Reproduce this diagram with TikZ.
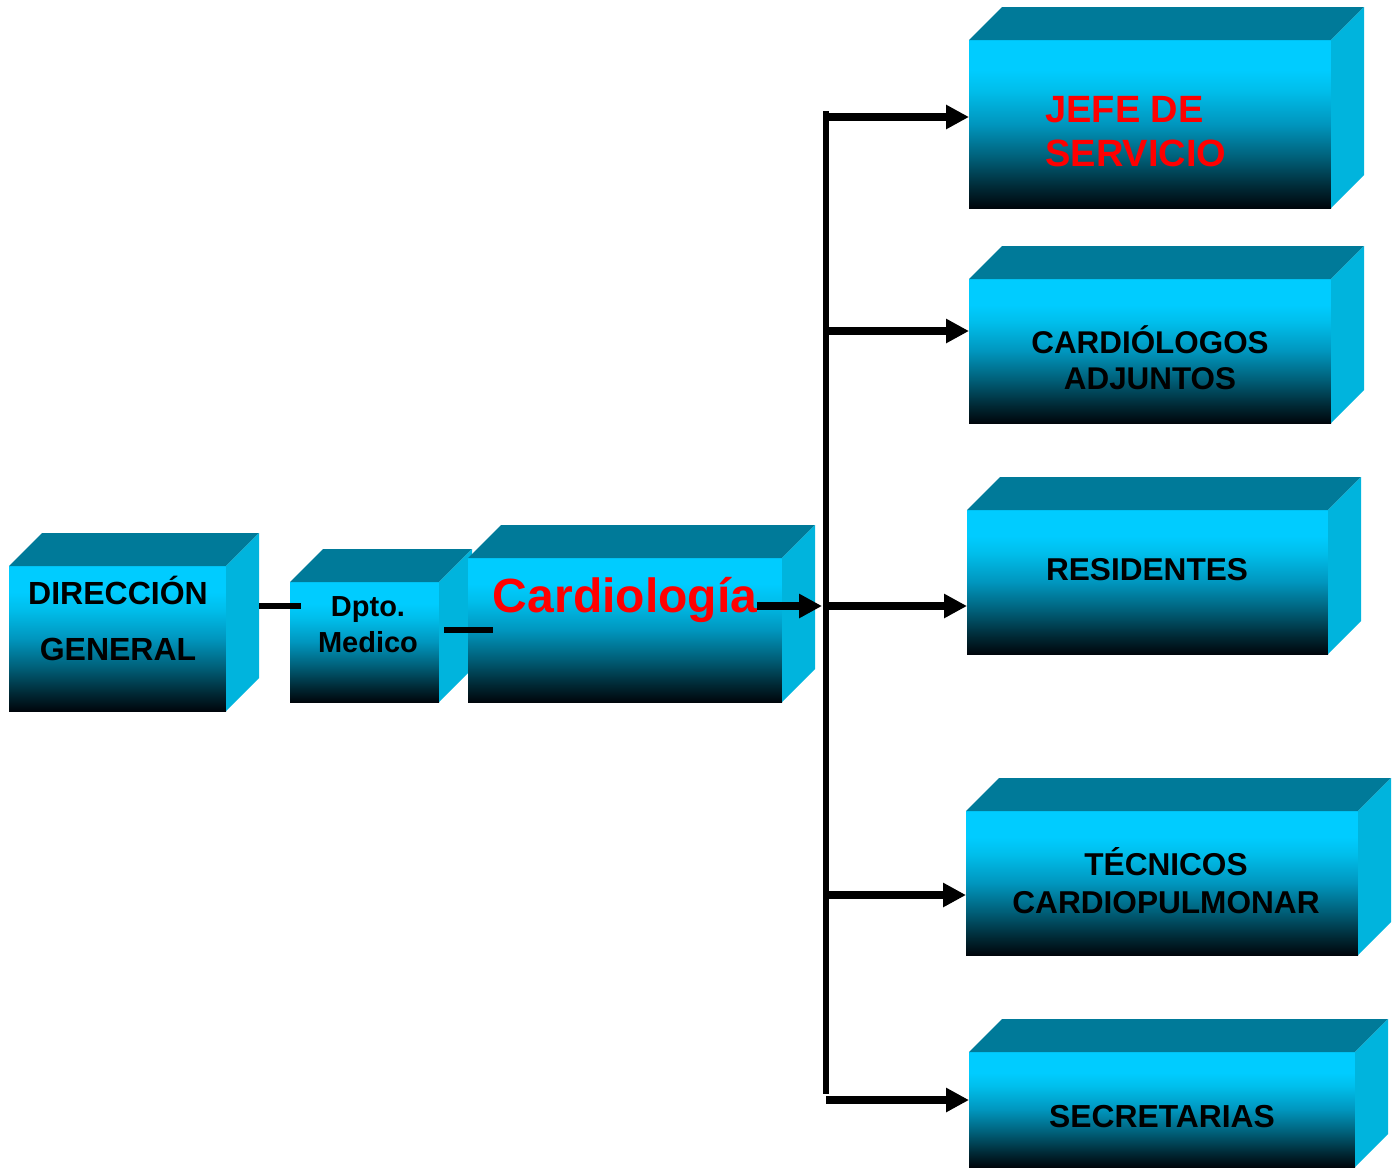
\documentclass[tikz,border=0pt]{standalone}
\usepackage{fontspec}
\setmainfont{Liberation Sans}
\usetikzlibrary{arrows.meta,fit,calc}

% face colours of the boxes
\definecolor{cubetop}{RGB}{0,122,153}
\definecolor{cubeside}{RGB}{0,180,221}
\definecolor{frontA}{RGB}{0,204,255}
\definecolor{frontB}{RGB}{0,190,235}
\definecolor{frontC}{RGB}{0,150,190}
\definecolor{frontD}{RGB}{0,95,120}
\definecolor{frontE}{RGB}{0,40,52}
\definecolor{frontF}{RGB}{0,6,12}
\definecolor{chartred}{RGB}{255,0,0}

% front face: bright cyan at the top fading to black at the bottom
\pgfdeclareverticalshading{boxfront}{100bp}{%
  color(0bp)=(frontF); color(25bp)=(frontF); color(31bp)=(frontE);
  color(40bp)=(frontD); color(50bp)=(frontC); color(60bp)=(frontB);
  color(66bp)=(frontA); color(100bp)=(frontA)}

% one box: front node plus its top and right faces
\newcommand\cubebox[5]{%
  \node[front, fit={(#2,#3) (#4,#5)}] (#1) {};
  \fill[cubetop] (#1.north west) -- ++(33,-33) -- ($(#1.north east)+(33,-33)$)
    -- (#1.north east) -- cycle;
  \fill[cubeside] (#1.north east) -- ++(33,-33) -- ($(#1.south east)+(33,-33)$)
    -- (#1.south east) -- cycle;
}

\begin{document}
\begin{tikzpicture}[x=0.5pt,y=-0.5pt,
  front/.style={inner sep=0pt, outer sep=0pt, shading=boxfront, draw=none},
  lbl/.style={inner sep=0pt, align=center},
  link/.style={line width=3pt},
  busline/.style={line width=3pt},
  arrowlink/.style={line width=4pt, -{Triangle[length=11.5pt,width=11.5pt]}}]

\useasboundingbox (0,0) rectangle (1400,1167);

% boxes
\cubebox{dir}{9}{566}{226}{711}
\cubebox{dpto}{290}{582}{439}{702}
\cubebox{cardio}{468}{558}{782}{702}
\cubebox{jefe}{969}{40}{1331}{208}
\cubebox{adj}{969}{279}{1331}{423}
\cubebox{res}{967}{510}{1328}{654}
\cubebox{tec}{966}{811}{1358}{955}
\cubebox{sec}{969}{1052}{1355}{1167}

% labels
\node[lbl, font=\fontsize{16}{28}\selectfont\bfseries] (dirtext) at (118,618) {DIRECCIÓN\\GENERAL};
\node[lbl, font=\fontsize{14.5}{18}\selectfont\bfseries] (dptotext) at (368,625) {Dpto.\\Medico};
\node[lbl, anchor=base, text=chartred, font=\fontsize{24}{28}\selectfont\bfseries] (cardiotext) at (625,612) {Cardiología};
\node[lbl, align=left, anchor=west, text=chartred, font=\fontsize{19}{22}\selectfont\bfseries] (jefetext) at (1045,132) {JEFE DE\\SERVICIO};
\node[lbl, font=\fontsize{15.7}{18}\selectfont\bfseries] (adjtext) at (1150,358) {CARDIÓLOGOS\\ADJUNTOS};
\node[lbl, font=\fontsize{15.8}{19}\selectfont\bfseries] (restext) at (1147,570) {RESIDENTES};
\node[lbl, font=\fontsize{15.8}{19}\selectfont\bfseries] (tectext) at (1166,881) {TÉCNICOS\\CARDIOPULMONAR};
\node[lbl, font=\fontsize{15.9}{19}\selectfont\bfseries] (sectext) at (1162,1117) {SECRETARIAS};

% connectors
\draw[link] ([shift={(33,40)}]dir.north east) -- ([shift={(11,24)}]dpto.north west);
\draw[link] ([shift={(5,48)}]dpto.north east) -- ([shift={(25,72)}]cardio.north west);

\coordinate (busTop) at (826,111);
\coordinate (busBot) at (826,1094);
\draw[busline] (busTop) -- (busBot);

\path ([shift={(-25,48)}]cardio.north east) coordinate (cardioOut);
\draw[arrowlink] (cardioOut) -- ($(cardioOut -| busTop)+(-4,0)$);

\foreach \n/\y in {jefe/117, adj/331, res/606, tec/895, sec/1100}
  \draw[arrowlink] (busTop |- 0,\y) -- (\n.west |- 0,\y);

\end{tikzpicture}
\end{document}
